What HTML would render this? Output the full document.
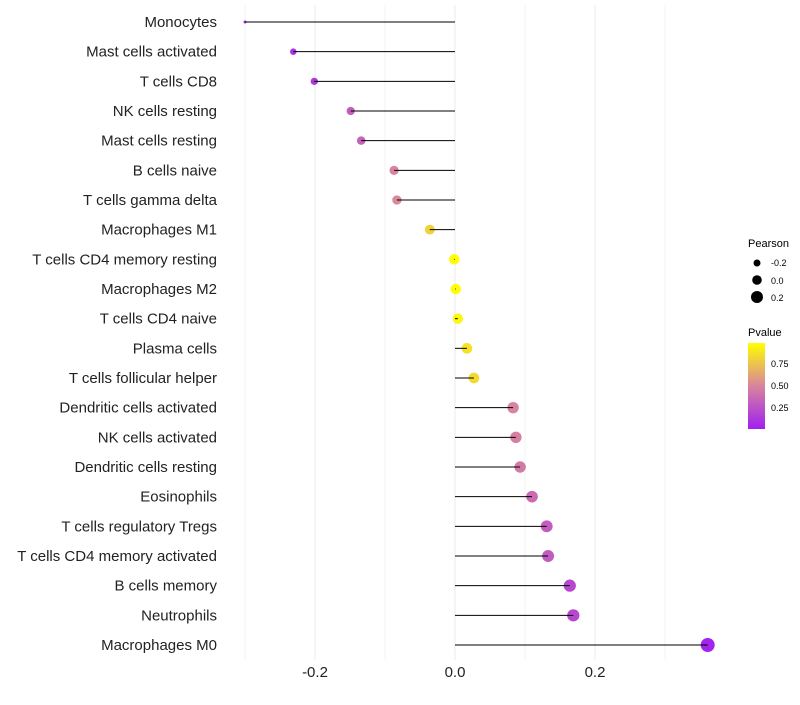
<!DOCTYPE html>
<html><head><meta charset="utf-8"><style>
body{margin:0;background:#fff;font-family:"Liberation Sans",sans-serif}
</style></head><body>
<svg id="chart" width="800" height="700" xmlns="http://www.w3.org/2000/svg" font-family="Liberation Sans, sans-serif">
<defs><linearGradient id="pg" x1="0" y1="1" x2="0" y2="0">
<stop offset="0" stop-color="#a020f0"/><stop offset="0.5" stop-color="#d8849e"/><stop offset="1" stop-color="#ffff00"/>
</linearGradient></defs>
<g id="grid"></g><g id="dots"></g><g id="stems"></g><g id="labels"></g>
<g font-size="10">
<text x="748" y="247" font-size="11">Pearson</text>
<circle cx="757" cy="263" r="3.5" fill="#000"/><text x="771" y="266" font-size="9">-0.2</text>
<circle cx="757" cy="280" r="4.8" fill="#000"/><text x="771" y="284" font-size="9">0.0</text>
<circle cx="757" cy="297" r="6" fill="#000"/><text x="771" y="301" font-size="9">0.2</text>
</g>
<g>
<text x="748" y="336" font-size="11">Pvalue</text>
<rect x="748" y="343" width="17" height="86" fill="url(#pg)"/>
<text x="771" y="367" font-size="9">0.75</text>
<text x="771" y="389" font-size="9">0.50</text>
<text x="771" y="411" font-size="9">0.25</text>
</g>
</svg>
<script>
const cats=["Monocytes","Mast cells activated","T cells CD8","NK cells resting","Mast cells resting","B cells naive","T cells gamma delta","Macrophages M1","T cells CD4 memory resting","Macrophages M2","T cells CD4 naive","Plasma cells","T cells follicular helper","Dendritic cells activated","NK cells activated","Dendritic cells resting","Eosinophils","T cells regulatory  Tregs","T cells CD4 memory activated","B cells memory","Neutrophils","Macrophages M0"];
const pearson=[-0.30,-0.231,-0.201,-0.149,-0.134,-0.087,-0.083,-0.036,-0.001,0.001,0.004,0.017,0.027,0.083,0.087,0.093,0.110,0.131,0.133,0.164,0.169,0.361];
const pvalue=[0.06,0.1,0.12,0.3,0.33,0.5,0.52,0.82,0.99,0.99,0.97,0.88,0.85,0.5,0.48,0.45,0.38,0.3,0.3,0.2,0.2,0.02];
const ticks=[-0.2,0.0,0.2];
const NS="http://www.w3.org/2000/svg";
const x=v=>455+v*700, y=i=>22+i*(623/21);
const r=p=>1.5+Math.sqrt(Math.max(0,(p+0.3)/0.66))*5.5;
function mix(a,b,t){return a.map((v,k)=>Math.round(v+(b[k]-v)*t));}
function col(p){const A=[160,32,240],M=[216,132,158],B=[255,255,0];const c=p<0.5?mix(A,M,p/0.5):mix(M,B,(p-0.5)/0.5);return `rgb(${c})`;}
function mk(t,a,parent){const e=document.createElementNS(NS,t);for(const k in a)e.setAttribute(k,a[k]);parent.appendChild(e);return e;}
const G=document.getElementById('grid'),D=document.getElementById('dots'),S=document.getElementById('stems'),L=document.getElementById('labels');
[-0.3,-0.1,0.1,0.3].forEach(v=>{const l=mk('line',{x1:x(v),x2:x(v),y1:5,y2:660,stroke:'#f3f3f3','stroke-width':1},G);

});
ticks.forEach(v=>{const l=mk('line',{x1:x(v),x2:x(v),y1:5,y2:660,stroke:'#ebebeb','stroke-width':1},G);


const t=mk('text',{x:x(v),y:677,'text-anchor':'middle','font-size':15,fill:'#222'},L);t.textContent=v.toFixed(1);

});
cats.forEach((c,i)=>{
const d=mk('circle',{cx:x(pearson[i]),cy:y(i),r:r(pearson[i]),fill:col(pvalue[i])},D);


const ln=mk('line',{x1:x(0),x2:x(pearson[i]),y1:y(i),y2:y(i),stroke:'#000','stroke-width':1},S);


const t=mk('text',{x:217,y:y(i)+5,'text-anchor':'end','font-size':15,fill:'#222'},L);t.textContent=c;


});
</script>
</body></html>
